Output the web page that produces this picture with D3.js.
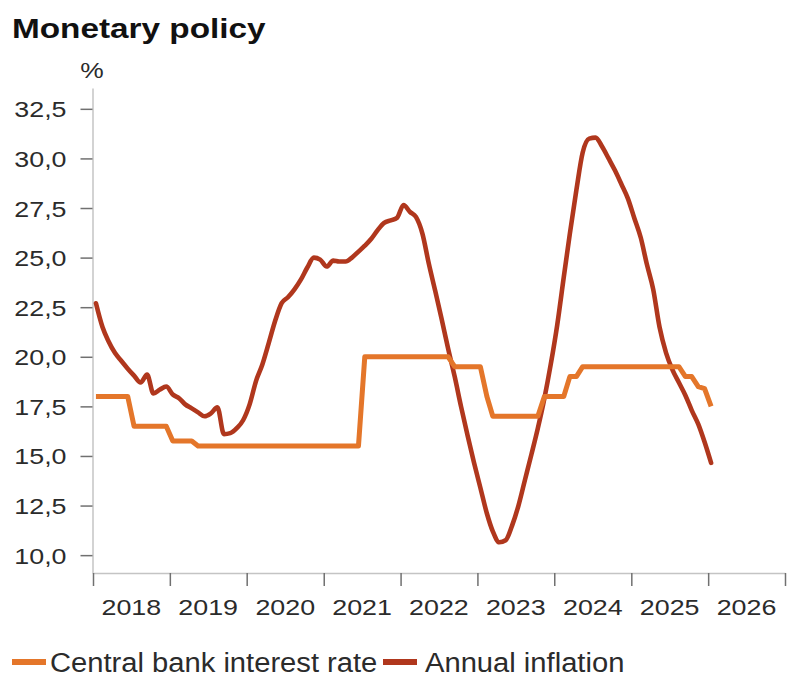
<!DOCTYPE html>
<html>
<head>
<meta charset="utf-8">
<script src="https://cdn.jsdelivr.net/npm/d3@7"></script>
<style>
  body { margin: 0; background: #fff; }
  svg { display: block; font-family: "Liberation Sans", Arial, sans-serif; }
</style>
</head>
<body>
<div id="chart"></div>
<script>
// monthly series, first value = January 2018
const firstMonth = new Date(2018, 0, 15);

const inflation = [
    22.7, 21.5, 20.8, 20.2, 19.8, 19.4, 19.05, 18.7, 19.1, 18.15, 18.35, 18.5,
    18.1, 17.9, 17.6, 17.4, 17.2, 17.0, 17.15, 17.45, 16.1, 16.15, 16.4, 16.8,
    17.6, 18.8, 19.6, 20.7, 21.8, 22.7, 23.0, 23.4, 23.9, 24.5, 25.0, 24.9,
    24.55, 24.85, 24.8, 24.8, 25.0, 25.3, 25.6, 25.95, 26.4, 26.75, 26.88, 27.0,
    27.65, 27.3, 27.05, 26.2, 24.7, 23.3, 21.9, 20.4, 19.0, 17.5, 16.05, 14.7,
    13.4, 12.1, 11.2, 10.65, 10.75, 11.5, 12.5, 13.8, 15.1, 16.4, 17.9, 19.6,
    21.6, 24.0, 26.2, 28.4, 30.3, 31.0, 31.05, 30.6, 30.0, 29.4, 28.7, 28.0,
    27.0, 26.0, 24.7, 23.4, 21.5, 20.2, 19.35, 18.7, 18.05, 17.3, 16.6, 15.7,
    14.65
];

const policyRate = [
    18.0, 18.0, 18.0, 18.0, 18.0, 18.0, 16.5, 16.5, 16.5, 16.5, 16.5, 16.5,
    15.75, 15.75, 15.75, 15.75, 15.5, 15.5, 15.5, 15.5, 15.5, 15.5, 15.5, 15.5,
    15.5, 15.5, 15.5, 15.5, 15.5, 15.5, 15.5, 15.5, 15.5, 15.5, 15.5, 15.5,
    15.5, 15.5, 15.5, 15.5, 15.5, 15.5, 20.0, 20.0, 20.0, 20.0, 20.0, 20.0,
    20.0, 20.0, 20.0, 20.0, 20.0, 20.0, 20.0, 20.0, 19.5, 19.5, 19.5, 19.5,
    19.5, 18.0, 17.0, 17.0, 17.0, 17.0, 17.0, 17.0, 17.0, 17.0, 18.0, 18.0,
    18.0, 18.0, 19.0, 19.0, 19.5, 19.5, 19.5, 19.5, 19.5, 19.5, 19.5, 19.5,
    19.5, 19.5, 19.5, 19.5, 19.5, 19.5, 19.5, 19.5, 19.0, 19.0, 18.5, 18.4,
    17.5
];

const yearLabels = ['2018', '2019', '2020', '2021', '2022', '2023', '2024', '2025', '2026'];
const yTicks = [10, 12.5, 15, 17.5, 20, 22.5, 25, 27.5, 30, 32.5];

const seriesNames = ['Central bank interest rate', 'Annual inflation'];
const seriesColors = ['#e4762a', '#b0371d'];

const width = 790, height = 677;

const svg = d3.select('#chart')
    .append('svg')
    .attr('width', width)
    .attr('height', height);

// text in the picture is drawn wider than the font itself
function wideText(parent, x, y, str, size, sx, opts = {}) {
    return parent.append('text')
        .attr('transform', `translate(${x},${y}) scale(${sx},1)`)
        .attr('text-anchor', opts.anchor || 'start')
        .style('font-size', size + 'px')
        .style('font-weight', opts.weight || 'normal')
        .style('fill', opts.color || '#2b2b2b')
        .text(str);
}

wideText(svg, 12, 38, 'Monetary policy', 28, 1.19, { weight: 'bold', color: '#111' });
wideText(svg, 92, 78, '%', 22, 1.2, { anchor: 'middle' });

const x = d3.scaleTime()
    .domain([new Date(2018, 0, 1), new Date(2027, 0, 1)])
    .range([93, 785]);

const y = d3.scaleLinear()
    .domain([9.1, 33.55])
    .range([573, 88]);

const fmt = d => d3.format('.1f')(d).replace('.', ',');

// y axis
const yAxis = svg.append('g')
    .attr('transform', 'translate(92.5,0)')
    .call(d3.axisLeft(y).tickValues(yTicks).tickSize(12).tickSizeOuter(0).tickFormat(fmt));
yAxis.select('.domain').attr('stroke', '#c4c4c4').attr('stroke-width', 1.5);
yAxis.selectAll('.tick line').attr('stroke', '#707070').attr('stroke-width', 1.5);
yAxis.selectAll('.tick text')
    .attr('x', null)
    .attr('dy', null)
    .attr('transform', 'translate(-26,8) scale(1.22,1)')
    .style('font-size', '22px')
    .style('fill', '#2b2b2b');

// x axis
const yearStarts = d3.range(2018, 2028).map(yr => new Date(yr, 0, 1));
const xAxis = svg.append('g')
    .attr('transform', 'translate(0,573)')
    .call(d3.axisBottom(x).tickValues(yearStarts).tickSize(13).tickSizeOuter(0).tickFormat(''));
xAxis.select('.domain').attr('stroke', '#c4c4c4').attr('stroke-width', 1.5);
xAxis.selectAll('.tick line').attr('stroke', '#707070').attr('stroke-width', 1.5);

yearLabels.forEach(label => {
    const yr = +label;
    wideText(svg, x(new Date(yr, 6, 2)), 615, label, 22, 1.22, { anchor: 'middle' });
});

// lines
const months = inflation.map((_, i) => d3.timeMonth.offset(firstMonth, i));

const line = d3.line()
    .x((d, i) => x(months[i]))
    .y(d => y(d));

svg.append('path')
    .datum(inflation)
    .attr('fill', 'none')
    .attr('stroke', seriesColors[1])
    .attr('stroke-width', 4.6)
    .attr('stroke-linejoin', 'round')
    .attr('stroke-linecap', 'round')
    .attr('d', line.curve(d3.curveMonotoneX));

svg.append('path')
    .datum(policyRate)
    .attr('fill', 'none')
    .attr('stroke', seriesColors[0])
    .attr('stroke-width', 5)
    .attr('stroke-linejoin', 'round')
    .attr('d', line.curve(d3.curveLinear));

// legend
const legendPos = [12, 383];
seriesNames.forEach((name, i) => {
    svg.append('line')
        .attr('x1', legendPos[i]).attr('x2', legendPos[i] + 34)
        .attr('y1', 662).attr('y2', 662)
        .attr('stroke', seriesColors[i])
        .attr('stroke-width', 6);
    wideText(svg, legendPos[i] + (i === 0 ? 38 : 42), 672, name, 27, 1.08);
});
</script>
</body>
</html>
